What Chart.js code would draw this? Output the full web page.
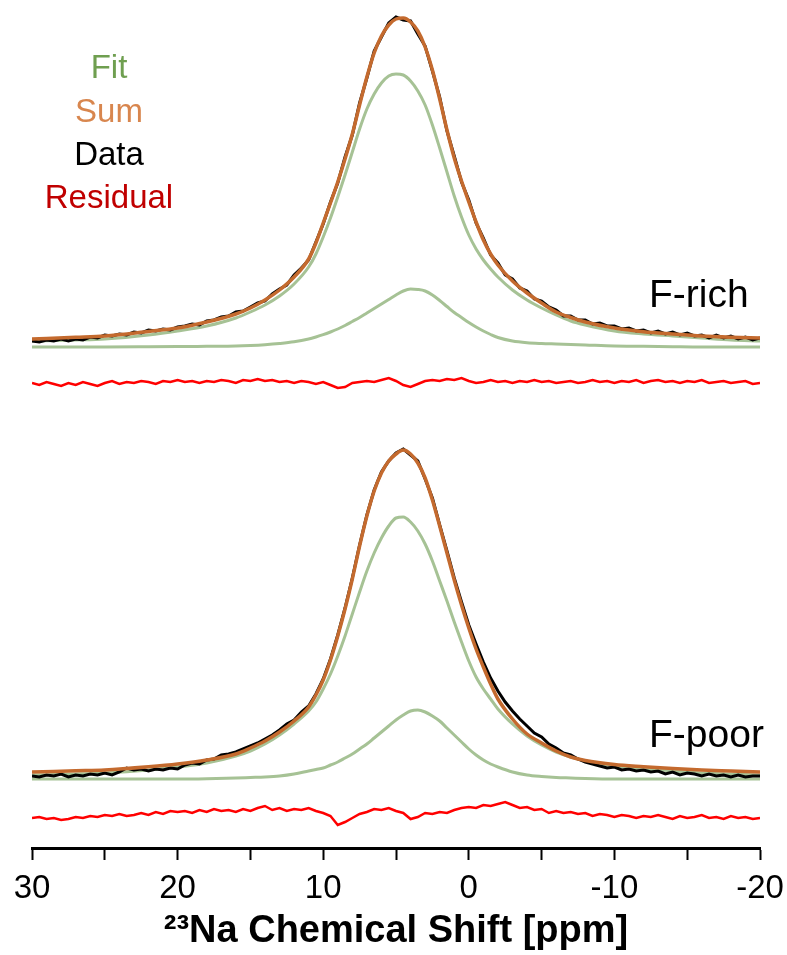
<!DOCTYPE html>
<html>
<head>
<meta charset="utf-8">
<script src="https://cdn.jsdelivr.net/npm/chart.js@4"></script>
<style>
  body { margin: 0; background: #fff; }
  #wrap { position: relative; width: 787px; height: 955px; }
  .lbl { position: absolute; font-family: "Liberation Sans", Arial, sans-serif; line-height: 1; white-space: nowrap; }
  .leg { left: 9px; width: 200px; text-align: center; font-size: 33px; }
  .tag { left: 649px; font-size: 39px; color: #000; }
</style>
</head>
<body>
<div id="wrap">
  <canvas id="nmrChart" width="787" height="955"></canvas>
  <div class="lbl leg" style="top:50px; color:#6f9f50;">Fit</div>
  <div class="lbl leg" style="top:94px; color:#d8864e;">Sum</div>
  <div class="lbl leg" style="top:137px; color:#000;">Data</div>
  <div class="lbl leg" style="top:180px; color:#c00000;">Residual</div>
  <div class="lbl tag" style="top:274px;">F-rich</div>
  <div class="lbl tag" style="top:714px;">F-poor</div>
</div>
<script>
const ctx = document.getElementById('nmrChart');

// chemical shift grid for the fitted (smooth) curves, ppm
const ppmFit = [30, 27, 25, 22, 20, 18, 16, 15, 14, 13, 12, 11, 10.5, 10, 9.5, 9, 8.5, 8, 7.5, 7,
  6.5, 6, 5.5, 5, 4.5, 4, 3.5, 3, 2.5, 2, 1.5, 1, 0.5, 0, -0.5, -1, -1.5, -2, -3, -4,
  -5, -6, -7, -8, -10, -12, -14, -16, -18, -20];

// F-rich fits (intensity above baseline, a.u.)
const richSum = [8, 9.7, 11, 15.6, 19, 25, 33, 39, 47, 57, 70, 88, 104, 124, 144, 165, 188, 213, 242, 270,
  294, 311, 322, 328, 329, 325, 316, 300, 277, 248, 217, 189, 166, 145, 125, 107, 93, 82, 66, 54,
  44, 35, 29.5, 25, 19, 15.3, 13, 11, 9.8, 9];
const richFit1 = [6, 7, 8, 12, 16, 21, 29, 35, 42, 51, 63, 80, 93, 110, 129, 150, 172, 195, 218, 238,
  253, 264, 271, 273, 272, 266, 256, 242, 222, 199, 175, 151, 130, 112, 98, 87, 78, 70, 57, 47,
  39, 32, 26, 22, 16, 13, 11, 9, 7, 6];
const richFit2 = [0, 0, 0, 0.2, 0.4, 0.7, 1, 1.5, 2.3, 3.5, 5.2, 8, 10, 12.3, 15, 18, 21.5, 25.5, 29.5, 34,
  38.5, 43, 47.5, 52, 56, 58, 57.5, 56, 52, 46.5, 40.5, 34.5, 29.5, 24.5, 20, 16, 12.5, 9.5, 6, 4.3,
  3.5, 3, 2.5, 2, 1, 0.7, 0.3, 0, 0, 0];

// F-poor fits
const poorSum = [7, 8.2, 9, 12.2, 15, 19, 25, 31, 38, 47, 58, 72, 84, 99, 119, 143, 170, 200, 233, 263,
  288, 306, 318, 325, 329, 325, 316, 301, 279, 253, 226, 199, 174, 151, 130, 112, 95, 80, 60, 45,
  36, 28, 22, 18.5, 14.5, 12.3, 10.4, 9, 8, 7];
const poorFit1 = [4, 5, 6, 9, 12, 16, 23, 28, 35, 44, 55, 68, 77, 90, 105, 123, 143, 165, 187, 208,
  226, 241, 253, 261, 262, 257, 248, 235, 218, 198, 178, 157, 137, 118, 102, 90, 80, 70, 55, 43,
  34, 27, 22, 18, 13, 10, 8, 6, 5, 4];
const poorFit2 = [0, 0, 0, 0, 0, 0.3, 1, 1.5, 2, 3, 5, 8, 9.5, 11, 14, 17, 21, 25, 30, 35,
  41, 47, 53, 59, 64, 68, 69, 67, 63, 58, 51, 44, 37, 30, 24, 19, 15, 12, 7, 4,
  2.5, 1.5, 1, 0.5, 0, 0, 0, 0, 0, 0];

// measured spectra and residuals, 0.5 ppm steps
const ppmData = [30, 29.5, 29, 28.5, 28, 27.5, 27, 26.5, 26, 25.5, 25, 24.5, 24, 23.5, 23, 22.5, 22, 21.5, 21, 20.5,
  20, 19.5, 19, 18.5, 18, 17.5, 17, 16.5, 16, 15.5, 15, 14.5, 14, 13.5, 13, 12.5, 12, 11.5, 11, 10.5,
  10, 9.5, 9, 8.5, 8, 7.5, 7, 6.5, 6, 5.5, 5, 4.5, 4, 3.5, 3, 2.5, 2, 1.5, 1, 0.5,
  0, -0.5, -1, -1.5, -2, -2.5, -3, -3.5, -4, -4.5, -5, -5.5, -6, -6.5, -7, -7.5, -8, -8.5, -9, -9.5,
  -10, -10.5, -11, -11.5, -12, -12.5, -13, -13.5, -14, -14.5, -15, -15.5, -16, -16.5, -17, -17.5, -18, -18.5, -19, -19.5, -20];

const richData = [6, 5, 7, 6, 8, 6, 8, 7, 10, 9, 12, 11, 13, 12, 15, 14, 17, 16, 18, 17,
  20, 21, 23, 22, 26, 27, 30, 31, 35, 36, 40, 44, 46, 53, 58, 62, 72, 79, 87, 105,
  123, 145, 164, 190, 212, 244, 269, 296, 310, 324, 330, 327, 326, 313, 301, 276, 250, 216, 191, 165,
  147, 124, 109, 92, 84, 72, 68, 59, 56, 48, 46, 40, 37, 31, 31, 27, 27, 23, 24, 21,
  21, 18, 19, 16, 17, 14, 16, 13, 15, 12, 14, 11, 12, 9, 12, 9, 11, 8, 10, 7, 9];
const richRes = [0, -2, 1, -1, -3, 0, -2, 1, -1, -3, 0, 2, -1, 1, 0, 2, 1, -1, 2, 1,
  3, 1, 2, 0, 2, 1, 3, 2, 0, 3, 2, 4, 2, 3, 1, 2, 0, 2, 1, -1,
  1, -2, -5, -4, 0, 1, 2, 1, 3, 5, 2, -2, -4, -1, 2, 3, 2, 4, 3, 5,
  2, 0, 1, 3, 1, 2, 0, 2, 1, 3, 1, 2, 0, 1, 2, 0, 1, 3, 1, 2,
  0, 2, 1, 3, 0, 2, 3, 1, 2, 0, 2, 1, 3, 0, 1, 2, 0, 1, 2, -1, 0];

const poorData = [3, 2, 4, 3, 5, 2, 4, 3, 5, 4, 6, 4, 7, 11, 9, 10, 8, 10, 9, 11,
  10, 14, 16, 15, 19, 20, 24, 25, 27, 30, 33, 36, 40, 44, 49, 55, 59, 67, 73, 85,
  100, 120, 144, 171, 201, 234, 264, 289, 307, 318, 326, 330, 324, 318, 300, 281, 254, 228, 201, 177,
  154, 135, 117, 101, 88, 77, 68, 60, 53, 46, 42, 35, 31, 26, 24, 20, 17, 15, 13, 11,
  12, 9, 10, 8, 9, 7, 8, 5, 7, 4, 6, 5, 3, 5, 3, 4, 2, 4, 2, 3, 3];
const poorRes = [-1, 0, -2, -1, -3, -2, 0, -1, 1, 0, 2, 1, 3, 1, 2, 4, 2, 5, 3, 6,
  5, 6, 4, 7, 5, 8, 6, 7, 5, 8, 6, 9, 11, 7, 9, 6, 8, 7, 9, 6,
  4, 1, -8, -5, -1, 3, 5, 8, 7, 9, 6, 4, -2, 0, 4, 3, 5, 4, 7, 9,
  10, 9, 12, 11, 13, 15, 12, 9, 10, 7, 8, 4, 6, 4, 5, 3, 4, 1, 3, 2,
  0, 2, 1, -1, 1, 0, 2, 0, -2, 1, -1, 0, 2, -1, 0, -2, 1, -1, 0, -2, -1];

// vertical stacking of the traces
const richBase = 501;
const richResBase = 465;
const poorBase = 69;
const poorResBase = 31;

const fitColor = '#a6c295';
const sumColor = '#c46a2e';
const dataColor = '#000000';
const resColor = '#ff0000';

function pts(xs, ys, base) {
  return xs.map((x, i) => ({x: x, y: ys[i] + base}));
}

function fitSet(data) {
  return {data: data, borderColor: fitColor, borderWidth: 3, pointRadius: 0, cubicInterpolationMode: 'monotone', order: 3};
}
function sumSet(data) {
  return {data: data, borderColor: sumColor, borderWidth: 3.5, pointRadius: 0, cubicInterpolationMode: 'monotone', order: 1};
}
function dataSet(data) {
  return {data: data, borderColor: dataColor, borderWidth: 3, pointRadius: 0, tension: 0, order: 2};
}
function resSet(data) {
  return {data: data, borderColor: resColor, borderWidth: 2.5, pointRadius: 0, tension: 0, order: 0};
}

const nmrChart = new Chart(ctx, {
  type: 'line',
  data: {
    datasets: [
      fitSet(pts(ppmFit, richFit1, richBase)),
      fitSet(pts(ppmFit, richFit2, richBase)),
      dataSet(pts(ppmData, richData, richBase)),
      sumSet(pts(ppmFit, richSum, richBase)),
      resSet(pts(ppmData, richRes, richResBase)),
      fitSet(pts(ppmFit, poorFit1, poorBase)),
      fitSet(pts(ppmFit, poorFit2, poorBase)),
      dataSet(pts(ppmData, poorData, poorBase)),
      sumSet(pts(ppmFit, poorSum, poorBase)),
      resSet(pts(ppmData, poorRes, poorResBase))
    ]
  },
  options: {
    responsive: false,
    animation: false,
    layout: {padding: {left: 32, right: 27, top: 0, bottom: 0}},
    plugins: {legend: {display: false}, tooltip: {enabled: false}},
    scales: {
      x: {
        type: 'linear',
        min: -20,
        max: 30,
        reverse: true,
        border: {display: true, color: '#000', width: 3},
        grid: {drawOnChartArea: false, drawTicks: true, tickLength: 12, tickColor: '#000', tickWidth: 2},
        ticks: {
          stepSize: 5,
          autoSkip: false,
          maxRotation: 0,
          padding: 9,
          color: '#000',
          font: {family: 'Liberation Sans', size: 33},
          callback: v => (v % 10 === 0 ? v : '')
        },
        title: {
          display: true,
          text: '\u00B2\u00B3Na Chemical Shift [ppm]',
          color: '#000',
          font: {family: 'Liberation Sans', size: 38, weight: 'bold'},
          padding: {top: 0, bottom: 1}
        },
        afterFit: s => { s.paddingLeft = 0; s.paddingRight = 0; s.height = 107; }
      },
      y: {display: false, min: 0, max: 848}
    }
  }
});
</script>
</body>
</html>
